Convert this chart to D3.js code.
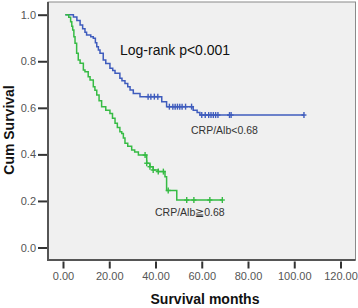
<!DOCTYPE html>
<html><head><meta charset="utf-8">
<script src="https://cdn.jsdelivr.net/npm/d3@7"></script>
<style>body{margin:0;background:#fff}svg{display:block}</style>
</head><body>
<script>
// ---- data ----
const xTicks = [0, 20, 40, 60, 80, 100, 120];
const yTicks = [0.0, 0.2, 0.4, 0.6, 0.8, 1.0];

const lowTimes = [1, 4.5, 6, 7.4, 8.5, 9.5, 10.2, 12, 13.1, 14, 14.6, 15.3, 16, 17.4, 18.5, 20.3, 21.5, 22.5, 24.6, 25.5, 26.8, 28, 29, 30.4, 33.3, 42.7, 44.8, 56.3, 58, 59.2, 104.2];
const lowSurv  = [1.0, 0.99, 0.975, 0.956, 0.94, 0.925, 0.913, 0.905, 0.899, 0.88, 0.862, 0.848, 0.834, 0.805, 0.79, 0.77, 0.76, 0.748, 0.727, 0.716, 0.705, 0.69, 0.677, 0.662, 0.648, 0.626, 0.605, 0.59, 0.58, 0.569, 0.569];
const lowCensT = [36.8, 38, 39.5, 41, 46, 47.5, 48.5, 49.5, 50.5, 51.5, 53, 55.6, 60, 61.5, 63, 64, 65, 66, 67, 72, 72.7, 104.2];
const lowCensS = [0.648, 0.648, 0.648, 0.648, 0.605, 0.605, 0.605, 0.605, 0.605, 0.605, 0.605, 0.605, 0.569, 0.569, 0.569, 0.569, 0.569, 0.569, 0.569, 0.569, 0.569, 0.569];

const highTimes = [1, 2.5, 3.3, 3.8, 4.2, 4.7, 5.2, 5.9, 6.6, 7.4, 8.8, 9.5, 10.9, 11.7, 13.1, 13.8, 14.6, 15.6, 16.7, 18.5, 20.3, 21.4, 22.5, 23.5, 24.6, 25.4, 26.1, 26.8, 28, 29.7, 31, 32.6, 36.2, 37.6, 39, 41.2, 44.1, 44.8, 49.2, 68.9];
const highSurv  = [1.0, 0.989, 0.97, 0.95, 0.934, 0.905, 0.877, 0.834, 0.805, 0.791, 0.762, 0.755, 0.734, 0.72, 0.69, 0.675, 0.655, 0.63, 0.605, 0.59, 0.576, 0.555, 0.534, 0.515, 0.497, 0.49, 0.47, 0.448, 0.435, 0.419, 0.41, 0.397, 0.362, 0.347, 0.333, 0.326, 0.304, 0.245, 0.204, 0.204];
const highCensT = [35.5, 36.2, 37.6, 39, 41.2, 43.4, 45.5, 53.5, 56.6, 63.5, 68.9];
const highCensS = [0.397, 0.362, 0.347, 0.333, 0.326, 0.326, 0.245, 0.204, 0.204, 0.204, 0.204];

// ---- layout ----
const W = 358, H = 308;
const svg = d3.select("body").append("svg").attr("width", W).attr("height", H);
const frame = {l: 48, t: 2, r: 355.5, b: 260};
const x = d3.scaleLinear().domain([0, 120]).range([63, 340.5]);
const y = d3.scaleLinear().domain([0, 1]).range([247.5, 14.7]);

svg.append("rect").attr("x", frame.l).attr("y", frame.t).attr("width", frame.r - frame.l).attr("height", frame.b - frame.t)
  .attr("fill", "#f0f0f0").attr("stroke", "#8a8a8a").attr("stroke-width", 1);
svg.append("line").attr("x1", frame.l).attr("x2", frame.l).attr("y1", frame.t).attr("y2", frame.b + 1)
  .attr("stroke", "#555").attr("stroke-width", 2);
svg.append("line").attr("x1", frame.l).attr("x2", frame.r).attr("y1", frame.b).attr("y2", frame.b)
  .attr("stroke", "#555").attr("stroke-width", 2);

// axes
const xAxis = d3.axisBottom(x).tickValues(xTicks).tickFormat(d3.format(".2f")).tickSize(7).tickPadding(4);
const gx = svg.append("g").attr("transform", `translate(0,${frame.b + 1.5})`).call(xAxis);
gx.select(".domain").remove();
gx.selectAll("line").attr("stroke", "#333").attr("stroke-width", 2);
gx.selectAll("text").attr("fill", "#555").style("font", "11px 'Liberation Sans', Arial, sans-serif");

const yAxis = d3.axisLeft(y).tickValues(yTicks).tickFormat(d3.format(".1f")).tickSize(9).tickPadding(2);
const gy = svg.append("g").attr("transform", `translate(${frame.l - 1},0)`).call(yAxis);
gy.select(".domain").remove();
gy.selectAll("line").attr("stroke", "#333").attr("stroke-width", 2);
gy.selectAll("text").attr("fill", "#555").style("font", "11px 'Liberation Sans', Arial, sans-serif");

// curves
function drawGroup(times, surv, censT, censS, color) {
  const pts = times.map((t, i) => [t, surv[i]]);
  const line = d3.line().x(d => x(d[0])).y(d => y(d[1])).curve(d3.curveStepAfter);
  svg.append("path").datum(pts).attr("d", line).attr("fill", "none").attr("stroke", color).attr("stroke-width", 1.5);
  const g = svg.append("g").attr("stroke", color).attr("stroke-width", 1.4);
  censT.forEach((t, i) => {
    const cx = x(t), cy = y(censS[i]);
    g.append("line").attr("x1", cx).attr("x2", cx).attr("y1", cy - 3).attr("y2", cy + 3);
    g.append("line").attr("x1", cx - 2.5).attr("x2", cx + 2.5).attr("y1", cy).attr("y2", cy);
  });
}
drawGroup(lowTimes, lowSurv, lowCensT, lowCensS, "#3f5cbd");
drawGroup(highTimes, highSurv, highCensT, highCensS, "#36bb44");

// labels
svg.append("text").attr("x", 120).attr("y", 55).text("Log-rank p<0.001")
  .style("font", "14px 'Liberation Sans', Arial, sans-serif").attr("fill", "#111");
svg.append("text").attr("x", 191).attr("y", 134).text("CRP/Alb<0.68")
  .style("font", "10.5px 'Liberation Sans', Arial, sans-serif").attr("fill", "#333");
svg.append("text").attr("x", 155).attr("y", 216).text("CRP/Alb\u22670.68")
  .style("font", "10.5px 'Liberation Sans', Arial, sans-serif").attr("fill", "#333");

svg.append("text").attr("x", 205).attr("y", 304).attr("text-anchor", "middle").text("Survival months")
  .style("font", "bold 14px 'Liberation Sans', Arial, sans-serif").attr("fill", "#111");
svg.append("text").attr("transform", "translate(14,130) rotate(-90)").attr("text-anchor", "middle").text("Cum Survival")
  .style("font", "bold 14px 'Liberation Sans', Arial, sans-serif").attr("fill", "#111");
</script>
</body></html>
